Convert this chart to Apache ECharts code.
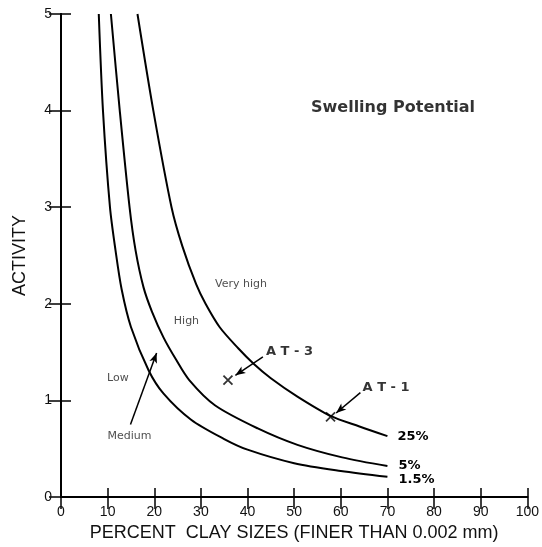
<!DOCTYPE html>
<html>
<head>
<meta charset="utf-8">
<script src="https://cdn.jsdelivr.net/npm/echarts@6/dist/echarts.min.js"></script>
<style>
  html, body { margin: 0; padding: 0; background: #fff; }
  #chart { width: 542px; height: 547px; }
</style>
</head>
<body>
<div id="chart"></div>
<script>
// swelling potential curves (clay %, activity)
const clay15 = [8.1, 9.0, 10.5, 11.7, 13.0, 15, 18.8, 22, 27.9, 35, 40, 50, 60, 70];
const act15 = [5.0, 4.0, 3.0, 2.55, 2.15, 1.76, 1.31, 1.07, 0.80, 0.60, 0.49, 0.35, 0.27, 0.21];

const clay5 = [10.7, 12.6, 14.7, 16, 17.7, 19.5, 22, 24.7, 27.5, 33, 42.2, 50.7, 60.3, 70];
const act5 = [5.0, 4.0, 3.0, 2.55, 2.17, 1.92, 1.65, 1.42, 1.21, 0.95, 0.71, 0.54, 0.41, 0.32];

const clay25 = [16.4, 19.8, 23.7, 26, 29, 31, 34, 38, 41.3, 45, 50.7, 57.8, 64, 70];
const act25 = [5.0, 4.0, 3.0, 2.6, 2.2, 2.0, 1.76, 1.54, 1.38, 1.23, 1.04, 0.84, 0.73, 0.63];

const curveNames = ['1.5%', '5%', '25%'];

// sample points
const sampleNames = ['AT-3', 'AT-1'];
const sampleClay = [35.8, 57.8];
const sampleAct = [1.21, 0.83];

// zone labels
const zoneNames = ['Low', 'Medium', 'High', 'Very high'];
const zoneClay = [12.2, 14.7, 26.9, 38.6];
const zoneAct = [1.23, 0.63, 1.82, 2.2];

// tag labels for samples
const tagNames = ['A T - 3', 'A T - 1'];
const tagClay = [49.0, 69.7];
const tagAct = [1.5, 1.13];

// arrows: [from, to]
const arrows = [
  [[43.3, 1.45], [37.4, 1.26]],
  [[64.2, 1.08], [59.0, 0.87]],
  [[14.9, 0.75], [20.5, 1.49]]
];

const xTicks = { min: 0, max: 100, interval: 10 };
const yTicks = { min: 0, max: 5, interval: 1 };

const chart = echarts.init(document.getElementById('chart'));

const zip = (xs, ys) => xs.map((x, i) => [x, ys[i]]);

const curveSeries = [
  { name: curveNames[0], data: zip(clay15, act15), offset: [3, 3] },
  { name: curveNames[1], data: zip(clay5, act5), offset: [3, 0] },
  { name: curveNames[2], data: zip(clay25, act25), offset: [2, 0] }
].map(c => ({
  name: c.name,
  type: 'line',
  data: c.data,
  smooth: 0.3,
  showSymbol: false,
  lineStyle: { color: '#000', width: 2 },
  endLabel: {
    show: true,
    formatter: c.name,
    color: '#000',
    fontFamily: 'DejaVu Sans',
    fontWeight: 'bold',
    fontSize: 13,
    offset: c.offset
  },
  silent: true
}));

const option = {
  animation: false,
  backgroundColor: '#fff',
  grid: { left: 61, right: 11, top: 14, bottom: 50 },
  xAxis: [
    {
      type: 'value',
      min: xTicks.min, max: xTicks.max, interval: xTicks.interval,
      name: 'PERCENT  CLAY SIZES (FINER THAN 0.002 mm)',
      nameLocation: 'middle',
      nameGap: 26,
      nameTextStyle: { fontFamily: 'Liberation Sans', fontSize: 18, color: '#111' },
      axisLine: { lineStyle: { color: '#000', width: 2 } },
      axisTick: { inside: true, length: 9, lineStyle: { color: '#000', width: 1.5 } },
      axisLabel: { margin: 8, fontFamily: 'Liberation Sans', fontSize: 14, color: '#111' },
      splitLine: { show: false }
    },
    {
      type: 'value', position: 'top',
      min: xTicks.min, max: xTicks.max, interval: xTicks.interval,
      axisLine: { lineStyle: { color: '#000', width: 2 } },
      axisTick: { inside: true, length: 12, lineStyle: { color: '#000', width: 1.5 } },
      axisLabel: { show: false },
      splitLine: { show: false }
    }
  ],
  yAxis: [
    {
      type: 'value',
      min: yTicks.min, max: yTicks.max, interval: yTicks.interval,
      name: 'ACTIVITY',
      nameLocation: 'middle',
      nameGap: 32,
      nameTextStyle: { fontFamily: 'Liberation Sans', fontSize: 18, color: '#111' },
      axisLine: { lineStyle: { color: '#000', width: 2 } },
      axisTick: { inside: true, length: 10, lineStyle: { color: '#000', width: 1.5 } },
      axisLabel: { margin: 9, fontFamily: 'Liberation Sans', fontSize: 14, color: '#111' },
      splitLine: { show: false }
    },
    {
      type: 'value', position: 'right',
      min: yTicks.min, max: yTicks.max, interval: yTicks.interval,
      axisLine: { lineStyle: { color: '#000', width: 2 } },
      axisTick: { inside: true, length: 12, lineStyle: { color: '#000', width: 1.5 } },
      axisLabel: { show: false },
      splitLine: { show: false }
    }
  ],
  series: [
    ...curveSeries,
    {
      // X marks for the samples
      type: 'scatter',
      data: zip(sampleClay, sampleAct).map((v, i) => ({ name: sampleNames[i], value: v })),
      symbol: 'path://M0,0L10,10M10,0L0,10',
      symbolSize: 9,
      itemStyle: { color: 'none', borderColor: '#000', borderWidth: 1.8 },
      silent: true
    },
    {
      type: 'scatter',
      data: zip(zoneClay, zoneAct).map((v, i) => ({ name: zoneNames[i], value: v })),
      symbolSize: 0,
      label: {
        show: true, position: 'inside', formatter: '{b}',
        fontFamily: 'DejaVu Sans', fontSize: 11, color: '#222'
      },
      silent: true
    },
    {
      type: 'scatter',
      data: zip(tagClay, tagAct).map((v, i) => ({ name: tagNames[i], value: v })),
      symbolSize: 0,
      label: {
        show: true, position: 'inside', formatter: '{b}',
        fontFamily: 'DejaVu Sans', fontWeight: 'bold', fontSize: 13, color: '#000'
      },
      silent: true
    },
    {
      type: 'scatter',
      data: [{ name: 'Swelling Potential', value: [71.2, 4.03] }],
      symbolSize: 0,
      label: {
        show: true, position: 'inside', formatter: '{b}',
        fontFamily: 'DejaVu Sans', fontWeight: 'bold', fontSize: 16, color: '#000'
      },
      silent: true
    },
    {
      // arrows
      type: 'line',
      data: [],
      silent: true,
      markLine: {
        silent: true,
        symbol: ['none', 'arrow'],
        symbolSize: [6, 10],
        label: { show: false },
        lineStyle: { color: '#000', width: 1.5, type: 'solid' },
        data: arrows.map(a => [{ coord: a[0] }, { coord: a[1] }])
      }
    }
  ]
};

chart.setOption(option);
</script>
</body>
</html>
